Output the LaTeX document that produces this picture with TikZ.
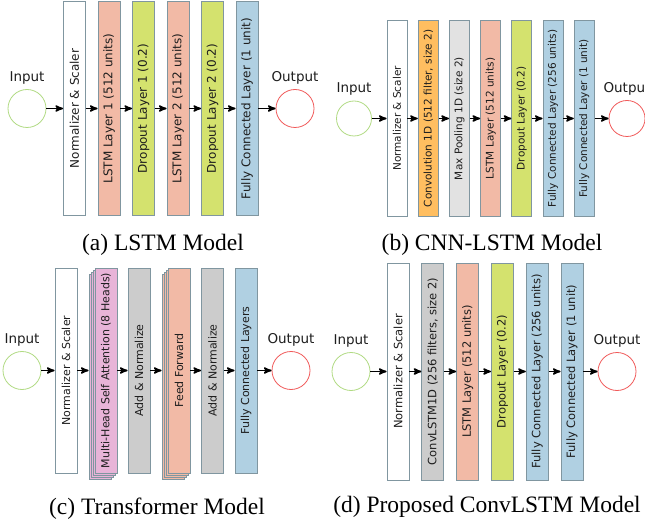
\documentclass[tikz,border=0pt]{standalone}
\usepackage{fontspec}
\setmainfont{Liberation Serif}
\newfontfamily\boxfont{DejaVu Sans}
\usepackage{tikz}
\usetikzlibrary{calc}
\usetikzlibrary{arrows}
\usetikzlibrary{positioning}

\definecolor{edgecol}{RGB}{128,150,160}
\definecolor{txtcol}{RGB}{30,30,30}
\definecolor{lstmcol}{RGB}{242,186,166}
\definecolor{dropcol}{RGB}{212,226,110}
\definecolor{fccol}{RGB}{176,208,226}
\definecolor{convcol}{RGB}{255,190,96}
\definecolor{poolcol}{RGB}{226,226,226}
\definecolor{graycol}{RGB}{204,204,204}
\definecolor{attcol}{RGB}{232,180,216}
\definecolor{incol}{RGB}{176,218,130}
\definecolor{outcol}{RGB}{240,90,90}

\tikzset{
 layer/.style={rotate=90, draw=edgecol, line width=.8pt, inner sep=0pt, text=txtcol},
 inport/.style={circle, draw=incol, line width=.8pt, minimum size=38pt, inner sep=0pt},
 outport/.style={circle, draw=outcol, line width=.8pt, minimum size=38pt, inner sep=0pt},
 portlbl/.style={font=\boxfont\fontsize{13.5}{15}\selectfont, text=txtcol, inner sep=1pt},
 flow/.style={black, line width=1.6pt, ->, >=stealth'},
 caption/.style={font=\fontsize{23.5}{26}\selectfont}
}

\begin{document}
\begin{tikzpicture}[x=1pt, y=-1pt]
\useasboundingbox (0,0) rectangle (645,529);

% (a) LSTM model
\node[inport] (ain) at (27,108.5) {};
\node[outport] (aout) at (295,108.5) {};
\node[portlbl, above=4pt of ain] (ainl) {Input};
\node[portlbl, above=4pt of aout] (aoutl) {Output};
\foreach \t/\c [count=\i] in {{Normalizer \& Scaler}/white, {LSTM Layer 1 (512 units)}/lstmcol, {Dropout Layer 1 (0.2)}/dropcol, {LSTM Layer 2 (512 units)}/lstmcol, {Dropout Layer 2 (0.2)}/dropcol, {Fully Connected Layer (1 unit)}/fccol}
 \node[layer, fill=\c, minimum width=214pt, minimum height=22pt, font=\boxfont\fontsize{12}{14}\selectfont] (a\i) at ({74.5+34.5*(\i-1)},108.5) {\t};
\draw[flow] (ain) -- (a1);
\foreach \i [evaluate=\i as \j using int(\i+1)] in {1,...,5}
 \draw[flow] (a\i) -- (a\j);
\draw[flow] (a6) -- (aout);
\node[caption] (acap) at (163,245) {(a) LSTM Model};

% (b) CNN-LSTM model
\node[inport, minimum size=35pt] (bin) at (354,118.5) {};
\node[outport, minimum size=36pt] (bout) at (627,118.5) {};
\node[portlbl, above=4pt of bin] (binl) {Input};
\node[portlbl, above=4pt of bout] (boutl) {Output};
\foreach \t/\c [count=\i] in {{Normalizer \& Scaler}/white, {Convolution 1D (512 filter, size 2)}/convcol, {Max Pooling 1D (size 2)}/poolcol, {LSTM Layer (512 units)}/lstmcol, {Dropout Layer (0.2)}/dropcol, {Fully Connected Layer (256 units)}/fccol, {Fully Connected Layer (1 unit)}/fccol}
 \node[layer, fill=\c, minimum width=196pt, minimum height=20pt, font=\boxfont\fontsize{10.5}{12}\selectfont] (b\i) at ({397+31.2*(\i-1)},118.5) {\t};
\draw[flow] (bin) -- (b1);
\foreach \i [evaluate=\i as \j using int(\i+1)] in {1,...,6}
 \draw[flow] (b\i) -- (b\j);
\draw[flow] (b7) -- (bout);
\node[caption] (bcap) at (492,245) {(b) CNN-LSTM Model};

% (c) Transformer model
\node[inport] (cin) at (22,370.5) {};
\node[outport] (cout) at (291,370.5) {};
\node[portlbl, above=4pt of cin] (cinl) {Input};
\node[portlbl, above=4pt of cout] (coutl) {Output};
\foreach \x/\n/\c in {106/c2/attcol, 179/c4/lstmcol}
 \foreach \k in {3,2,1}
  \node[layer, fill=\c, minimum width=205pt, minimum height=22pt] (\n s\k) at ({\x-2*\k},{370.5+2*\k}) {};
\foreach \t/\c/\x [count=\i] in {{Normalizer \& Scaler}/white/66, {Multi-Head Self Attention (8 Heads)}/attcol/106, {Add \& Normalize}/graycol/139, {Feed Forward}/lstmcol/179, {Add \& Normalize}/graycol/212.5, {Fully Connected Layers}/fccol/246}
 \node[layer, fill=\c, minimum width=205pt, minimum height=22pt, font=\boxfont\fontsize{11}{13}\selectfont] (c\i) at (\x,370.5) {\t};
\draw[flow] (cin) -- (c1);
\draw[flow] (c1) -- (c1 -| c2s3.north);
\draw[flow] (c2) -- (c3);
\draw[flow] (c3) -- (c3 -| c4s3.north);
\draw[flow] (c4) -- (c5);
\draw[flow] (c5) -- (c6);
\draw[flow] (c6) -- (cout);
\node[caption] (ccap) at (157,509) {(c) Transformer Model};

% (d) proposed ConvLSTM model
\node[inport] (din) at (351,371.5) {};
\node[outport] (dout) at (617,371.5) {};
\node[portlbl, above=4pt of din] (dinl) {Input};
\node[portlbl, above=4pt of dout] (doutl) {Output};
\foreach \t/\c [count=\i] in {{Normalizer \& Scaler}/white, {ConvLSTM1D (256 filters, size 2)}/graycol, {LSTM Layer (512 units)}/lstmcol, {Dropout Layer (0.2)}/dropcol, {Fully Connected Layer (256 units)}/fccol, {Fully Connected Layer (1 unit)}/fccol}
 \node[layer, fill=\c, minimum width=217pt, minimum height=22pt, font=\boxfont\fontsize{11.5}{13}\selectfont] (d\i) at ({398+34.8*(\i-1)},371.5) {\t};
\draw[flow] (din) -- (d1);
\foreach \i [evaluate=\i as \j using int(\i+1)] in {1,...,5}
 \draw[flow] (d\i) -- (d\j);
\draw[flow] (d6) -- (dout);
\node[caption] (dcap) at (487,507) {(d) Proposed ConvLSTM Model};
\end{tikzpicture}
\end{document}
